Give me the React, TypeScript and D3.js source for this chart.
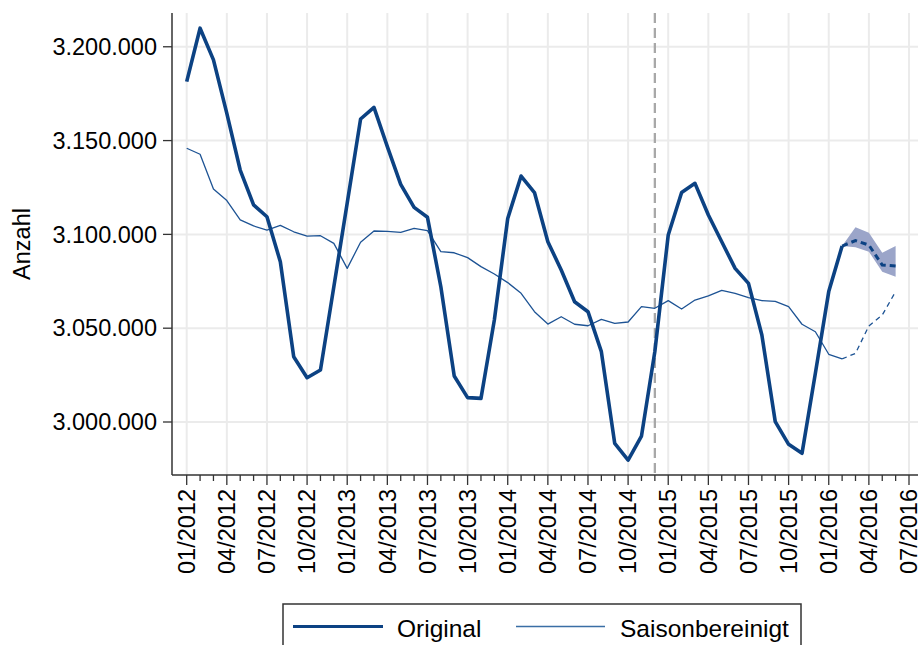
import React from "react";
import * as d3 from "d3";

// monthly values from 01/2012 (index 0) to 02/2016 (index 49)
const original = [
  3181400, 3209900, 3193000, 3164500, 3134300, 3115700, 3109400, 3085400, 3034800, 3023600,
  3027700, 3072100, 3116700, 3161500, 3167700, 3146800, 3126700, 3114400, 3109100, 3072100,
  3024500, 3013000, 3012600, 3054400, 3108500, 3131100, 3122300, 3096100, 3081000, 3064100,
  3058800, 3037500, 2988600, 2979700, 2992500, 3037600, 3099700, 3122300, 3127200, 3110300,
  3096100, 3081900, 3073900, 3046400, 3000200, 2988100, 2983300, 3026000, 3069500, 3093800,
];

const seasonal = [
  3145900, 3142700, 3124200, 3118000, 3107700, 3104500, 3102300, 3104800, 3101400, 3099100,
  3099300, 3095200, 3081900, 3095800, 3101800, 3101600, 3101100, 3103200, 3102000, 3090800,
  3090200, 3087600, 3082800, 3078900, 3074300, 3068600, 3058800, 3052200, 3056100, 3052100,
  3051300, 3054700, 3052600, 3053300, 3061500, 3060600, 3064700, 3060200, 3065000, 3067200,
  3070200, 3068600, 3066300, 3064700, 3064300, 3061500, 3052100, 3048100, 3036100, 3033600,
];

// forecast, index 49..53 (02/2016 .. 06/2016)
const forecastStart = 49;
const forecastOriginal = [3093800, 3096700, 3094300, 3083700, 3083200];
const forecastUpper = [3093800, 3103800, 3100900, 3090200, 3093800];
const forecastLower = [3093800, 3093100, 3090800, 3080100, 3077400];
const forecastSeasonal = [3033600, 3036600, 3051200, 3057000, 3069500];

const xTickLabels = [
  "01/2012", "04/2012", "07/2012", "10/2012",
  "01/2013", "04/2013", "07/2013", "10/2013",
  "01/2014", "04/2014", "07/2014", "10/2014",
  "01/2015", "04/2015", "07/2015", "10/2015",
  "01/2016", "04/2016", "07/2016",
];
const yTicks = [3000000, 3050000, 3100000, 3150000, 3200000];
const breakMonth = 35; // 12/2014

const W = 922;
const H = 645;
const left = 172;
const right = 918;
const top = 13;
const bottom = 475;

const darkBlue = "#0c4283";
const thinBlue = "#1d5394";
const font = "'Liberation Sans', Arial, sans-serif";

const de = d3.formatLocale({ decimal: ",", thousands: ".", grouping: [3], currency: ["", "€"] });
const fmt = de.format(",.0f");

export default function App() {
  const x = d3.scaleLinear().domain([0, 54]).range([186.7, 909]);
  const y = d3.scaleLinear().domain([2971750, 3218000]).range([bottom, top]);

  const line = d3.line<number>()
    .x((d, i) => x(i))
    .y((d) => y(d));
  const fLine = d3.line<number>()
    .x((d, i) => x(forecastStart + i))
    .y((d) => y(d));
  const band = d3.area<number>()
    .x((d, i) => x(forecastStart + i))
    .y0((d, i) => y(forecastLower[i]))
    .y1((d) => y(d));

  const months = d3.range(0, 55);

  return (
    <svg width={W} height={H} style={{ position: "absolute", left: 0, top: 0, background: "#fff" }}
      fontFamily={font}>
      {/* grid */}
      {yTicks.map((t) => (
        <line key={"gy" + t} x1={left} x2={right} y1={y(t)} y2={y(t)} stroke="#ebebeb" strokeWidth={2} />
      ))}
      {xTickLabels.map((l, i) => (
        <line key={"gx" + l} x1={x(i * 3)} x2={x(i * 3)} y1={top} y2={bottom} stroke="#ebebeb" strokeWidth={2} />
      ))}

      {/* break line */}
      <line x1={x(breakMonth)} x2={x(breakMonth)} y1={top} y2={bottom} stroke="#a8a8a8"
        strokeWidth={2.3} strokeDasharray="10,5" />

      {/* confidence band */}
      <path d={band(forecastUpper) || ""} fill="#9ba5c9" stroke="none" />

      {/* series */}
      <path d={line(seasonal) || ""} fill="none" stroke={thinBlue} strokeWidth={1.3} strokeLinejoin="round" />
      <path d={fLine(forecastSeasonal) || ""} fill="none" stroke={thinBlue} strokeWidth={1.3}
        strokeDasharray="5,4" />
      <path d={line(original) || ""} fill="none" stroke={darkBlue} strokeWidth={3.6} strokeLinejoin="round" />
      <path d={fLine(forecastOriginal) || ""} fill="none" stroke={darkBlue} strokeWidth={3}
        strokeDasharray="6,4" />

      {/* axes */}
      <line x1={left} x2={left} y1={top} y2={bottom} stroke="#333" strokeWidth={1.5} />
      <line x1={left} x2={right} y1={bottom} y2={bottom} stroke="#333" strokeWidth={1.5} />
      {yTicks.map((t) => (
        <g key={"yt" + t}>
          <line x1={left - 9} x2={left} y1={y(t)} y2={y(t)} stroke="#333" strokeWidth={1.3} />
          <text x={157} y={y(t)} dy="0.35em" textAnchor="end" fontSize={23.5} fill="#000">{fmt(t)}</text>
        </g>
      ))}
      {months.map((m) => (
        <line key={"xt" + m} x1={x(m)} x2={x(m)} y1={bottom} y2={bottom + (m % 3 === 0 ? 10 : 6)}
          stroke="#333" strokeWidth={1.3} />
      ))}
      {xTickLabels.map((l, i) => (
        <text key={"xl" + l} transform={`translate(${x(i * 3)},${489}) rotate(-90)`} dy="0.35em"
          textAnchor="end" fontSize={23.5} fill="#000">{l}</text>
      ))}
      <text transform={`translate(22,${(top + bottom) / 2}) rotate(-90)`} dy="0.35em" textAnchor="middle"
        fontSize={23.5} fill="#000">Anzahl</text>

      {/* legend */}
      <rect x={283} y={604} width={518} height={60} fill="#fff" stroke="#333" strokeWidth={1.5} />
      <line x1={293} x2={383} y1={626.5} y2={626.5} stroke={darkBlue} strokeWidth={3.2} />
      <text x={397} y={636.5} fontSize={24.5} fill="#000">Original</text>
      <line x1={516} x2={605} y1={626.5} y2={626.5} stroke="#3a6ea5" strokeWidth={1.5} />
      <text x={620} y={636.5} fontSize={24.5} fill="#000">Saisonbereinigt</text>
    </svg>
  );
}
